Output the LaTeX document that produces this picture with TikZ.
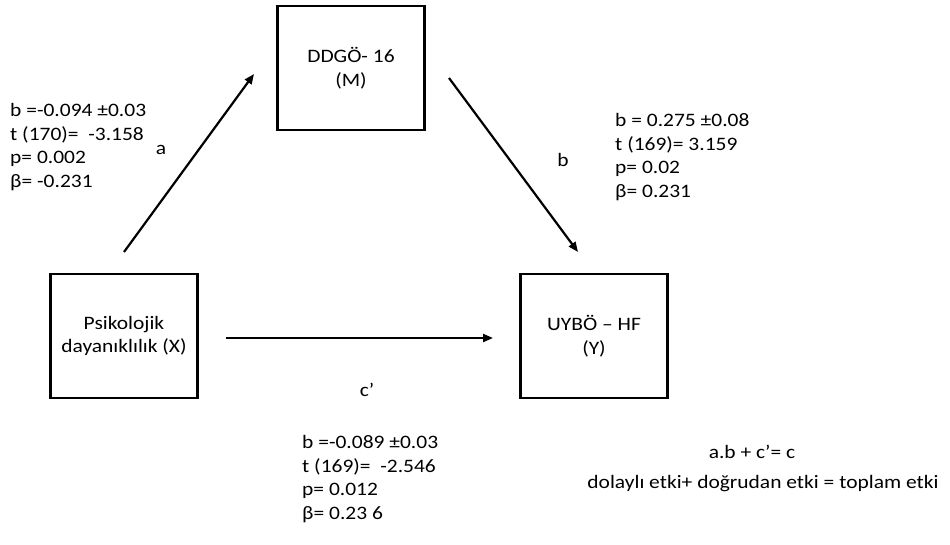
\documentclass[tikz,border=0pt]{standalone}
\usepackage{fontspec}
\setmainfont{Carlito}[FakeStretch=1.13]
\usetikzlibrary{arrows.meta, positioning}

\begin{document}
\begin{tikzpicture}[
    x=1pt, y=-1pt,
    every node/.style={font=\fontsize{19}{23.5}\selectfont, inner sep=0pt},
    var/.style={draw, line width=2.6pt, minimum width=147pt, minimum height=124pt, align=center},
    stats/.style={align=left, anchor=west},
    effect/.style={line width=2.2pt, -{Triangle[length=10pt, width=8pt]}},
    ]
    \useasboundingbox (0,0) rectangle (950,545);

    % Variables
    \node[var] (M) at (351,68) {DDGÖ- 16\\(M)};
    \node[var] (X) at (124,336) {Psikolojik\\dayanıklılık (X)};
    \node[var] (Y) at (594,336) {UYBÖ – HF\\(Y)};

    % Path ends
    \coordinate (a0) at (124,252);
    \coordinate (a1) at (254,74);
    \coordinate (b0) at (449,78);
    \coordinate (b1) at (578,252);
    \coordinate (c0) at (226,338);
    \coordinate (c1) at (493,338);

    % Paths a, b and c'
    \draw[effect] (a0) -- (a1);
    \draw[effect] (b0) -- (b1);
    \draw[effect] (c0) -- (c1);

    \node (la) at (161,150) {a};
    \node (lb) at (563,160) {b};
    \node (lc) at (367,390) {c’};

    % Coefficients
    \node[stats] (statA) at (10,147) {b =-0.094 ±0.03\\t (170)=\ \ -3.158\\p= 0.002\\β= -0.231};
    \node[stats] (statB) at (615,157) {b = 0.275 ±0.08\\t (169)= 3.159\\p= 0.02\\β= 0.231};
    \node[stats] (statC) at (302,479) {b =-0.089 ±0.03\\t (169)=\ \ -2.546\\p= 0.012\\β= 0.23 6};

    % Effects
    \node (eq) at (752,452) {a.b + c’= c};
    \node (eqtext) at (763,484) {dolaylı etki+ doğrudan etki = toplam etki};

\end{tikzpicture}
\end{document}
